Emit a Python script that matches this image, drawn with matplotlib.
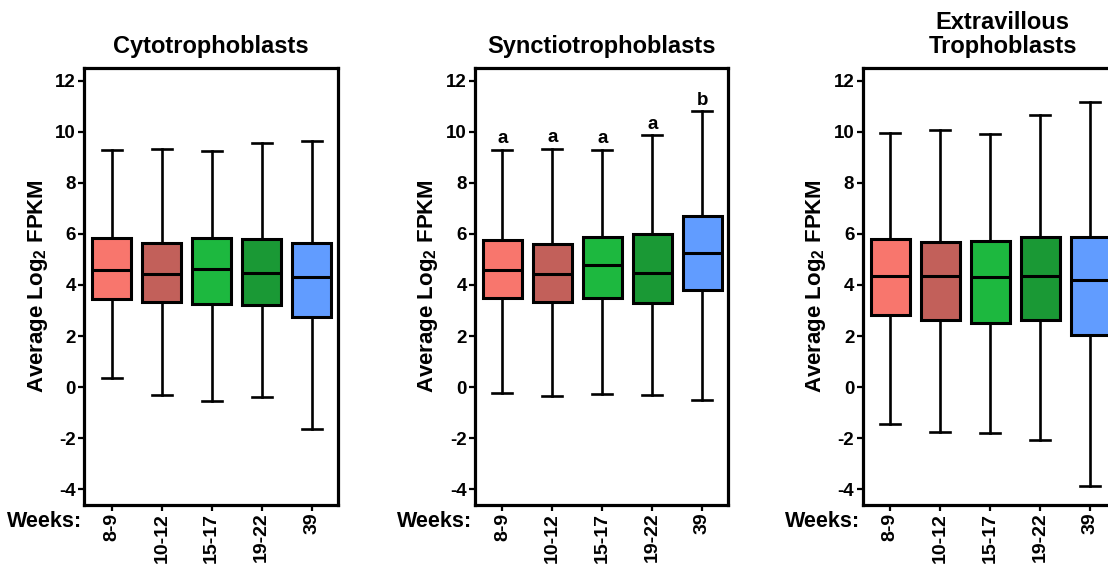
import matplotlib
matplotlib.use('Agg')
import matplotlib.pyplot as plt

plt.rcParams['font.family'] = ['Liberation Sans', 'DejaVu Sans']
plt.rcParams['font.weight'] = 'bold'
plt.rcParams['axes.unicode_minus'] = False
plt.rcParams['mathtext.fontset'] = 'custom'
plt.rcParams['mathtext.rm'] = 'Liberation Sans:bold'
plt.rcParams['mathtext.bf'] = 'Liberation Sans:bold'

weeks = ['8-9', '10-12', '15-17', '19-22', '39']
colors = ['#F8766D', '#C2605A', '#1DB83F', '#1A9935', '#619CFF']

titles = ['Cytotrophoblasts', 'Synctiotrophoblasts', 'Extravillous\nTrophoblasts']

# min, q1, median, q3, max for each week group
cyto_min = [0.36, -0.32, -0.54, -0.38, -1.64]
cyto_q1 = [3.47, 3.33, 3.26, 3.20, 2.74]
cyto_med = [4.58, 4.44, 4.63, 4.48, 4.31]
cyto_q3 = [5.83, 5.66, 5.83, 5.81, 5.66]
cyto_max = [9.27, 9.32, 9.23, 9.56, 9.65]

sync_min = [-0.22, -0.36, -0.26, -0.31, -0.49]
sync_q1 = [3.49, 3.32, 3.49, 3.30, 3.80]
sync_med = [4.59, 4.43, 4.78, 4.47, 5.26]
sync_q3 = [5.77, 5.61, 5.86, 5.99, 6.70]
sync_max = [9.28, 9.32, 9.28, 9.86, 10.80]
sync_letters = ['a', 'a', 'a', 'a', 'b']

evt_min = [-1.43, -1.75, -1.80, -2.06, -3.87]
evt_q1 = [2.81, 2.64, 2.51, 2.64, 2.04]
evt_med = [4.36, 4.36, 4.32, 4.36, 4.21]
evt_q3 = [5.82, 5.69, 5.73, 5.88, 5.88]
evt_max = [9.94, 10.07, 9.90, 10.64, 11.16]

panels = [
    (cyto_min, cyto_q1, cyto_med, cyto_q3, cyto_max),
    (sync_min, sync_q1, sync_med, sync_q3, sync_max),
    (evt_min, evt_q1, evt_med, evt_q3, evt_max),
]

W, H = 1108, 571
fig = plt.figure(figsize=(W / 100, H / 100), dpi=100)

lefts = [84.3, 475.0, 862.7]
ax_w, ax_top, ax_bot = 253.4, 68.0, 504.5

for i, (lo, q1, med, q3, hi) in enumerate(panels):
    ax = fig.add_axes([lefts[i] / W, (H - ax_bot) / H, ax_w / W, (ax_bot - ax_top) / H])
    stats = []
    for j in range(len(weeks)):
        stats.append({'whislo': lo[j], 'q1': q1[j], 'med': med[j],
                      'q3': q3[j], 'whishi': hi[j], 'fliers': [], 'label': weeks[j]})
    bp = ax.bxp(stats, positions=range(1, len(weeks) + 1), widths=0.78, capwidths=0.4,
                patch_artist=True, showfliers=False,
                boxprops=dict(linewidth=2.2, edgecolor='black'),
                medianprops=dict(color='black', linewidth=2.2),
                whiskerprops=dict(color='black', linewidth=1.9),
                capprops=dict(color='black', linewidth=1.9))
    for patch, c in zip(bp['boxes'], colors):
        patch.set_facecolor(c)

    ax.set_xlim(0.45, 5.52)
    ax.set_ylim(-4.6, 12.5)
    ax.set_yticks(range(-4, 13, 2))
    ax.set_xticks(range(1, len(weeks) + 1))
    ax.set_xticklabels(weeks, rotation=90, fontsize=14, fontweight='bold')
    for lab in ax.get_yticklabels():
        lab.set_fontsize(13.5)
        lab.set_fontweight('bold')
    ax.tick_params(direction='out', length=4, width=1.6, pad=2)
    for sp in ax.spines.values():
        sp.set_linewidth(2.3)

    ax.set_ylabel(r'Average Log$_\mathbf{2}$ FPKM', fontsize=16, fontweight='bold', labelpad=4)
    ax.text(-0.01, -0.04, 'Weeks:', transform=ax.transAxes, ha='right', va='center',
            fontsize=15.5, fontweight='bold')

    if i == 2:
        ax.text(0.553, 1 + 15 / (ax_bot - ax_top), titles[i], transform=ax.transAxes,
                ha='center', va='baseline', fontsize=17, fontweight='bold', linespacing=1.05)
    else:
        ax.set_title(titles[i], fontsize=17, fontweight='bold', pad=11)

    if i == 1:
        for j, letter in enumerate(sync_letters):
            ax.annotate(letter, (j + 1, hi[j]), xytext=(0, 2), textcoords='offset points',
                        ha='center', va='bottom', fontsize=13.5, fontweight='bold')

fig.savefig('out.png', dpi=100)
